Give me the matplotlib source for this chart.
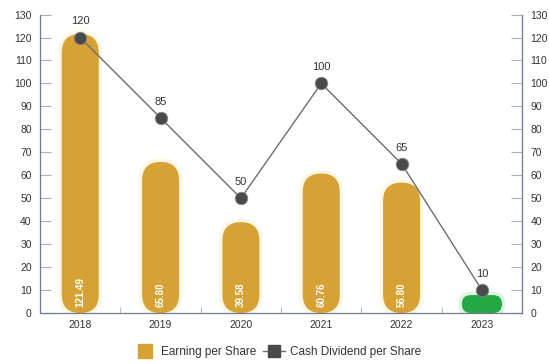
import matplotlib
matplotlib.use("Agg")
import matplotlib.pyplot as plt
from matplotlib.patches import FancyBboxPatch
from matplotlib.lines import Line2D
import numpy as np

# ── data ──────────────────────────────────────────────────────────────────────
years = ["2018", "2019", "2020", "2021", "2022", "2023"]
eps = [121.49, 65.80, 39.58, 60.76, 56.80, 7.82]
eps_labels = ["121.49", "65.80", "39.58", "60.76", "56.80", "7.82"]
dividend = [120, 85, 50, 100, 65, 10]

GOLD = "#D6A235"
GLOW = "#F6E4A6"
GREEN = "#23A843"
LINE = "#6E6E6E"
MARK = "#4A4A4A"
AXIS = "#6E7C92"
TEXT = "#333333"

plt.rcParams["font.family"] = ["Liberation Sans", "DejaVu Sans"]

fig = plt.figure(figsize=(5.49, 3.64), dpi=100)
ax = fig.add_axes([0.073, 0.140, 0.878, 0.82])
ax.set_xlim(-0.5, 5.5)
ax.set_ylim(0, 130)

# units of y per unit of x in screen space, used to keep the pill ends round
bbox = ax.get_position()
px_x = bbox.width * fig.get_figwidth() * fig.dpi / 6.0
px_y = bbox.height * fig.get_figheight() * fig.dpi / 130.0
aspect = px_x / px_y


def pill(ax, xc, h, w, color, z, alpha=1.0, pad=0.0):
    x0 = xc - w / 2 - pad
    y0 = -pad * aspect
    ww = w + 2 * pad
    hh = h + 2 * pad * aspect
    r = min(ww / 2, hh / aspect / 2)
    p = FancyBboxPatch((x0, y0), ww, hh,
                       boxstyle=f"round,pad=0,rounding_size={r}",
                       mutation_aspect=aspect, facecolor=color,
                       edgecolor="none", alpha=alpha, zorder=z,
                       clip_on=True)
    ax.add_patch(p)


x = np.arange(len(years))
for i, (xi, h) in enumerate(zip(x, eps)):
    if i == len(years) - 1:
        pill(ax, xi, h, 0.50, "#9BE0A8", 1, alpha=0.35, pad=0.04)
        pill(ax, xi, h, 0.50, GREEN, 2)
    else:
        pill(ax, xi, h, 0.46, GLOW, 1, alpha=0.30, pad=0.04)
        pill(ax, xi, h, 0.46, GOLD, 2)
        ax.text(xi, 2.5, eps_labels[i], rotation=90, ha="center", va="bottom",
                color="white", fontsize=7, fontweight="bold", zorder=3)

ax.plot(x, dividend, color=LINE, linewidth=1.0, zorder=4)
ax.plot(x, dividend, linestyle="none", marker="o", markersize=9,
        markerfacecolor=MARK, markeredgecolor="#888888", markeredgewidth=0.6,
        zorder=5)
for xi, v in zip(x, dividend):
    ax.annotate(str(v), (xi, v), xytext=(0, 8), textcoords="offset points",
                ha="center", va="bottom", fontsize=8, color=TEXT, zorder=6)

# axes styling: left, right and bottom lines with inward ticks
ax.spines["top"].set_visible(False)
for side in ("left", "right", "bottom"):
    ax.spines[side].set_color(AXIS)
    ax.spines[side].set_linewidth(0.9)

ax.set_yticks(np.arange(0, 131, 10))
ax.tick_params(axis="y", direction="in", length=8, color="#A8B0BE",
               labelsize=7.5, labelcolor=TEXT, left=True, right=True,
               labelleft=True, labelright=True, pad=6)
ax.set_xticks(x)
ax.set_xticklabels(years)
ax.set_xticks(np.arange(0.5, 5.5, 1.0), minor=True)
ax.tick_params(axis="x", which="major", length=0, labelsize=7.5,
               labelcolor=TEXT, pad=5)
ax.tick_params(axis="x", which="minor", direction="in", length=4,
               color="#A8B0BE")

# square swatch for EPS, line-through-square for the dividend series
handles = [
    Line2D([0], [0], linestyle="none", marker="s", markersize=10,
           markerfacecolor=GOLD, markeredgecolor=GOLD,
           label="Earning per Share"),
    Line2D([0], [0], color=LINE, linewidth=1.0, marker="s", markersize=8,
           markerfacecolor=MARK, markeredgecolor=MARK,
           label="Cash Dividend per Share"),
]
fig.legend(handles=handles, loc="center", bbox_to_anchor=(0.505, 0.033),
           ncol=2, frameon=False, fontsize=8.5, handlelength=1.9,
           handletextpad=0.4, columnspacing=0.6, labelcolor=TEXT)

fig.savefig("out.png", dpi=100)
